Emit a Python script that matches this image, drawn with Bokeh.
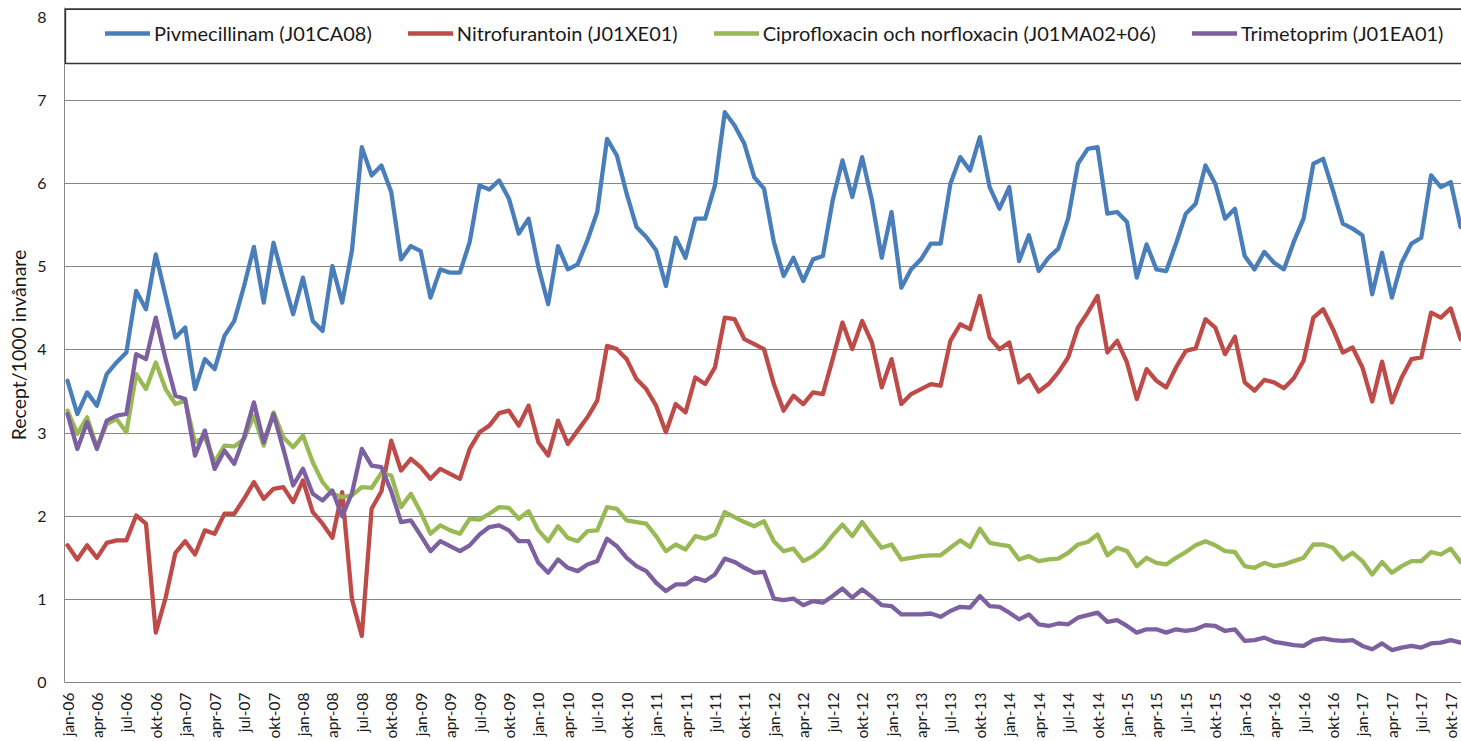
import math
from bokeh.plotting import figure
from bokeh.models import Range1d, FixedTicker, BoxAnnotation, Legend, LegendItem
from bokeh.embed import file_html
from bokeh.resources import INLINE

# ---------------- data (jan-06 .. nov-17) ----------------
month_names = ["jan", "feb", "mar", "apr", "maj", "jun", "jul", "aug", "sep", "okt", "nov", "dec"]
months = [f"{m}-{y:02d}" for y in range(6, 18) for m in month_names][:143]

pivmecillinam = [
    3.63, 3.23, 3.49, 3.33, 3.71, 3.85, 3.97, 4.71, 4.49, 5.15, 4.65, 4.15,
    4.27, 3.53, 3.89, 3.77, 4.17, 4.35, 4.77, 5.24, 4.57, 5.29, 4.85, 4.43,
    4.87, 4.35, 4.23, 5.01, 4.57, 5.20, 6.44, 6.10, 6.22, 5.90, 5.09, 5.25,
    5.19, 4.63, 4.97, 4.93, 4.93, 5.30, 5.98, 5.93, 6.04, 5.82, 5.40, 5.58,
    5.00, 4.55, 5.25, 4.97, 5.03, 5.32, 5.66, 6.54, 6.34, 5.88, 5.48, 5.36,
    5.20, 4.77, 5.35, 5.11, 5.58, 5.58, 5.98, 6.86, 6.70, 6.48, 6.08, 5.94,
    5.30, 4.89, 5.11, 4.83, 5.09, 5.13, 5.80, 6.28, 5.84, 6.32, 5.80, 5.11,
    5.66, 4.75, 4.97, 5.09, 5.28, 5.28, 6.00, 6.32, 6.16, 6.56, 5.96, 5.70,
    5.96, 5.07, 5.38, 4.95, 5.11, 5.22, 5.58, 6.24, 6.42, 6.44, 5.64, 5.66,
    5.54, 4.87, 5.27, 4.97, 4.95, 5.28, 5.64, 5.76, 6.22, 6.00, 5.58, 5.70,
    5.13, 4.97, 5.18, 5.05, 4.97, 5.30, 5.58, 6.24, 6.30, 5.92, 5.52, 5.46,
    5.38, 4.67, 5.17, 4.63, 5.05, 5.28, 5.35, 6.10, 5.96, 6.02, 5.48,
]
nitrofurantoin = [
    1.65, 1.48, 1.65, 1.50, 1.68, 1.71, 1.71, 2.01, 1.91, 0.60, 1.02, 1.56,
    1.70, 1.54, 1.83, 1.79, 2.03, 2.03, 2.21, 2.41, 2.21, 2.33, 2.35, 2.17,
    2.43, 2.05, 1.91, 1.74, 2.29, 1.00, 0.56, 2.09, 2.30, 2.91, 2.55, 2.69,
    2.59, 2.45, 2.57, 2.51, 2.45, 2.81, 3.01, 3.09, 3.24, 3.27, 3.09, 3.33,
    2.89, 2.73, 3.15, 2.87, 3.03, 3.19, 3.39, 4.05, 4.01, 3.89, 3.65, 3.53,
    3.33, 3.01, 3.35, 3.25, 3.67, 3.59, 3.79, 4.39, 4.37, 4.13, 4.07, 4.01,
    3.59, 3.27, 3.45, 3.35, 3.49, 3.47, 3.89, 4.33, 4.01, 4.35, 4.09, 3.55,
    3.89, 3.35, 3.47, 3.53, 3.59, 3.57, 4.11, 4.31, 4.25, 4.65, 4.15, 4.01,
    4.09, 3.61, 3.70, 3.50, 3.59, 3.73, 3.91, 4.27, 4.45, 4.65, 3.97, 4.11,
    3.85, 3.41, 3.77, 3.63, 3.55, 3.79, 3.99, 4.02, 4.37, 4.27, 3.95, 4.16,
    3.61, 3.51, 3.64, 3.61, 3.54, 3.66, 3.87, 4.39, 4.49, 4.25, 3.97, 4.03,
    3.79, 3.38, 3.86, 3.37, 3.67, 3.89, 3.91, 4.45, 4.39, 4.50, 4.13,
]
ciprofloxacin = [
    3.27, 2.99, 3.19, 2.83, 3.11, 3.17, 3.01, 3.71, 3.53, 3.85, 3.53, 3.35,
    3.39, 2.89, 2.95, 2.65, 2.85, 2.84, 2.93, 3.21, 2.85, 3.25, 2.95, 2.83,
    2.97, 2.65, 2.41, 2.27, 2.23, 2.25, 2.35, 2.34, 2.52, 2.49, 2.11, 2.27,
    2.05, 1.79, 1.89, 1.83, 1.79, 1.97, 1.96, 2.03, 2.11, 2.10, 1.97, 2.06,
    1.83, 1.70, 1.88, 1.74, 1.70, 1.82, 1.83, 2.11, 2.09, 1.95, 1.93, 1.91,
    1.76, 1.58, 1.66, 1.60, 1.76, 1.73, 1.78, 2.05, 1.99, 1.93, 1.88, 1.94,
    1.70, 1.58, 1.61, 1.46, 1.52, 1.62, 1.77, 1.90, 1.76, 1.93, 1.77, 1.62,
    1.66, 1.48, 1.50, 1.52, 1.53, 1.53, 1.62, 1.71, 1.63, 1.85, 1.68, 1.66,
    1.64, 1.48, 1.52, 1.46, 1.48, 1.49, 1.56, 1.66, 1.69, 1.78, 1.53, 1.62,
    1.58, 1.40, 1.50, 1.44, 1.42, 1.50, 1.57, 1.65, 1.70, 1.65, 1.58, 1.57,
    1.40, 1.38, 1.44, 1.40, 1.42, 1.46, 1.50, 1.66, 1.66, 1.62, 1.48, 1.56,
    1.46, 1.30, 1.45, 1.32, 1.40, 1.46, 1.46, 1.57, 1.54, 1.61, 1.45,
]
trimetoprim = [
    3.23, 2.81, 3.13, 2.81, 3.15, 3.21, 3.23, 3.95, 3.89, 4.39, 3.89, 3.45,
    3.41, 2.73, 3.03, 2.57, 2.79, 2.63, 2.95, 3.37, 2.89, 3.23, 2.81, 2.37,
    2.57, 2.27, 2.19, 2.31, 2.00, 2.28, 2.81, 2.61, 2.59, 2.30, 1.93, 1.95,
    1.77, 1.58, 1.70, 1.64, 1.58, 1.65, 1.78, 1.87, 1.89, 1.83, 1.70, 1.70,
    1.44, 1.32, 1.48, 1.38, 1.34, 1.42, 1.46, 1.73, 1.64, 1.50, 1.40, 1.34,
    1.20, 1.10, 1.18, 1.18, 1.26, 1.22, 1.30, 1.49, 1.45, 1.38, 1.32, 1.33,
    1.01, 0.99, 1.01, 0.93, 0.98, 0.96, 1.04, 1.13, 1.02, 1.12, 1.03, 0.93,
    0.92, 0.82, 0.82, 0.82, 0.83, 0.79, 0.86, 0.91, 0.90, 1.04, 0.92, 0.91,
    0.84, 0.76, 0.82, 0.70, 0.68, 0.71, 0.70, 0.78, 0.81, 0.84, 0.73, 0.75,
    0.68, 0.60, 0.64, 0.64, 0.60, 0.64, 0.62, 0.64, 0.69, 0.68, 0.62, 0.64,
    0.50, 0.51, 0.54, 0.49, 0.47, 0.45, 0.44, 0.51, 0.53, 0.51, 0.50, 0.51,
    0.44, 0.40, 0.47, 0.39, 0.42, 0.44, 0.42, 0.47, 0.48, 0.51, 0.48,
]

series_names = [
    "Pivmecillinam (J01CA08)",
    "Nitrofurantoin (J01XE01)",
    "Ciprofloxacin och norfloxacin (J01MA02+06)",
    "Trimetoprim (J01EA01)",
]
series_values = [pivmecillinam, nitrofurantoin, ciprofloxacin, trimetoprim]
series_colors = ["#4A7EBB", "#BE4B48", "#98B954", "#7D60A0"]

y_ticks = [0, 1, 2, 3, 4, 5, 6, 7, 8]
x_tick_idx = list(range(0, len(months), 3))
y_axis_label = "Recept/1000 invånare"

# ---------------- figure ----------------
FONT = "Lato"
GRID = "#868686"
TEXT = "#1a1a1a"

x_start, x_end = -0.306, 142.1
y_start, y_end = 0.0, 8.12

p = figure(
    width=1461, height=741,
    x_range=Range1d(x_start, x_end), y_range=Range1d(y_start, y_end),
    output_backend="svg", toolbar_location=None,
    min_border_left=64, min_border_right=0, min_border_top=7, min_border_bottom=56,
)
p.outline_line_color = None
p.background_fill_color = "white"
p.border_fill_color = "white"

xs = list(range(len(months)))
renderers = []
for name, vals, col in zip(series_names, series_values, series_colors):
    r = p.line(xs[:len(vals)], vals, line_color=col, line_width=4.3,
               line_cap="round", line_join="round")
    renderers.append(r)

# axes
p.xaxis.ticker = FixedTicker(ticks=x_tick_idx)
p.xaxis.major_label_overrides = {i: months[i] for i in x_tick_idx}
p.xaxis.major_label_orientation = math.pi / 2
p.xaxis.major_label_text_font = FONT
p.xaxis.major_label_text_font_size = "15.5px"
p.xaxis.major_label_text_color = TEXT
p.xaxis.major_label_standoff = 10
p.xaxis.axis_line_color = GRID
p.xaxis.major_tick_line_color = None
p.xaxis.major_tick_out = 0
p.xaxis.major_tick_in = 0
p.xaxis.minor_tick_line_color = None
p.xaxis.minor_tick_out = 0

p.yaxis.ticker = FixedTicker(ticks=y_ticks)
p.yaxis.major_label_text_font = FONT
p.yaxis.major_label_text_font_size = "16px"
p.yaxis.major_label_text_color = TEXT
p.yaxis.major_label_standoff = 18
p.yaxis.axis_line_color = GRID
p.yaxis.major_tick_line_color = None
p.yaxis.major_tick_out = 0
p.yaxis.major_tick_in = 0
p.yaxis.minor_tick_line_color = None
p.yaxis.minor_tick_out = 0
p.yaxis.axis_label = y_axis_label
p.yaxis.axis_label_text_font = FONT
p.yaxis.axis_label_text_font_size = "19.5px"
p.yaxis.axis_label_text_font_style = "normal"
p.yaxis.axis_label_text_color = TEXT
p.yaxis.axis_label_standoff = 4

p.xgrid.grid_line_color = None
p.ygrid.grid_line_color = GRID
p.ygrid.grid_line_width = 1

# legend box
box = BoxAnnotation(left=x_start + 0.09, right=x_end + 20, top=8.1, bottom=7.447,
                    fill_color="white", fill_alpha=1.0,
                    line_color="#333333", line_alpha=1.0, line_width=1.6)
p.add_layout(box)

legend = Legend(
    items=[LegendItem(label=n, renderers=[r]) for n, r in zip(series_names, renderers)],
    orientation="horizontal", location=(41, 637), padding=0, margin=0,
    spacing=36, glyph_width=45, glyph_height=20, label_height=20, label_standoff=4,
    border_line_color=None, background_fill_alpha=0,
    label_text_font=FONT, label_text_font_size="20px", label_text_color=TEXT,
)
p.add_layout(legend)

open("out.html", "w").write(file_html(p, INLINE))
